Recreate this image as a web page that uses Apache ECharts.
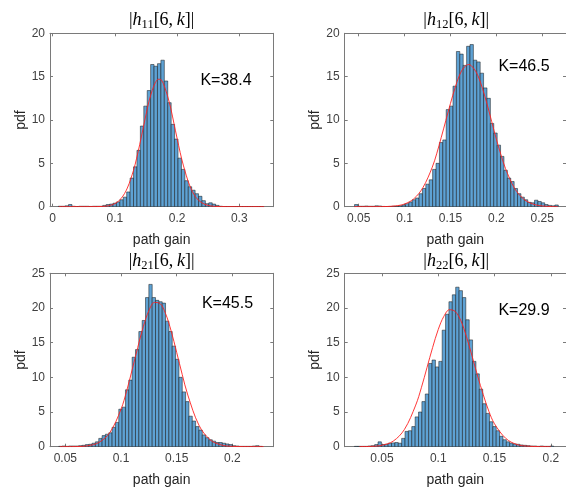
<!DOCTYPE html>
<html><head><meta charset="utf-8">
<script src="https://cdn.jsdelivr.net/npm/echarts@6/dist/echarts.min.js"></script>
<style>html,body{margin:0;padding:0;background:#fff}#c{width:566px;height:489px}</style>
</head><body><div id="c"></div>
<script>
// ---------------- DATA ----------------
// |h11[6,k]|  (60 bins, width 0.0055)
const h11BinStart = 0.009, h11BinWidth = 0.0055;
const h11Heights = [0.05,0.05,0.1,0.25,0.05,0.02,0.05,0.05,0.05,0.03,0.05,0.05,0.05,0.15,0.25,0.3,0.4,0.55,0.8,1.1,
  1.7,3.3,4.6,6.5,9.3,11.6,13.4,16.4,16.2,16.5,16.9,14.5,12.0,9.5,7.8,5.6,4.3,3.0,2.3,
  1.9,1.5,1.2,0.7,0.35,0.45,0.3,0.15,0.05,0.02,0.02,0.02,0.02,0.02,0.02,0.02,0.02,0.02,0.02,0.02,0.02];
const h11CurveX = [0.01,0.03,0.05,0.07,0.08,0.09,0.10,0.11,0.12,0.13,0.135,0.14,0.145,0.15,0.155,0.16,0.165,0.17,0.175,0.18,0.185,0.19,0.195,0.20,0.205,0.21,0.22,0.23,0.24,0.25,0.26,0.27,0.29,0.34];
const h11CurveY = [0,0,0,0.01,0.03,0.11,0.35,0.94,2.15,4.2,5.6,7.2,8.9,10.6,12.2,13.4,14.3,14.7,14.6,13.8,12.7,11.3,9.6,7.9,6.25,4.8,2.5,1.1,0.44,0.15,0.04,0.01,0,0];

// |h12[6,k]|  (60 bins, width 0.0037)
const h12BinStart = 0.0455, h12BinWidth = 0.0037;
const h12Heights = [0.25,0.05,0.05,0.08,0.05,0.05,0.1,0.08,0.03,0.02,0.03,0.05,0.05,0.1,0.2,
  0.35,0.55,0.8,1.0,1.5,2.1,2.6,3.1,4.3,5.0,7.4,7.7,11.2,11.6,13.9,
  17.9,17.6,16.3,18.5,18.7,16.9,16.7,15.4,13.7,12.5,9.6,8.5,7.1,5.8,4.2,3.3,
  2.9,2.1,1.5,1.1,0.8,0.5,0.45,0.75,0.6,0.45,0.25,0.15,0.1,0.2];
const h12CurveX = [0.045,0.06,0.07,0.08,0.09,0.10,0.11,0.12,0.13,0.135,0.14,0.145,0.15,0.155,0.16,0.165,0.17,0.175,0.18,0.185,0.19,0.195,0.20,0.205,0.21,0.22,0.23,0.24,0.25,0.26,0.267];
const h12CurveY = [0,0,0.005,0.02,0.09,0.31,0.9,2.2,4.5,6.1,8.0,9.95,11.9,13.7,15.2,16.1,16.4,16.0,15.1,13.6,11.8,9.8,7.8,6.0,4.4,2.1,0.86,0.3,0.09,0.02,0.01];

// |h21[6,k]|  (bin width 0.003)
const h21BinStart = 0.044, h21BinWidth = 0.003;
const h21Heights = [0.05,0.1,0.05,0.1,0.1,0.1,0.15,0.2,0.3,0.35,0.5,0.7,
  1.2,1.6,1.8,2.0,2.8,3.5,5.4,5.7,8.2,9.6,12.9,14.0,16.6,18.2,21.5,
  23.4,21.5,21.1,20.9,20.7,18.1,16.6,14.5,12.6,10.0,7.9,6.5,4.4,3.7,2.9,2.4,1.7,1.3,1.0,
  0.8,0.6,0.6,0.5,0.4,0.3,0.15,0.1,0.05,0.05,0.05,0.05,0.1,0.15,0.05];
const h21CurveX = [0.045,0.06,0.07,0.08,0.09,0.10,0.105,0.11,0.115,0.12,0.125,0.13,0.135,0.14,0.145,0.15,0.155,0.16,0.17,0.18,0.19,0.20,0.21,0.228];
const h21CurveY = [0,0.02,0.13,0.6,2.05,5.4,8.0,11.1,14.3,17.3,19.6,20.8,20.65,19.2,16.7,13.6,10.4,7.45,3.1,1.0,0.25,0.05,0.01,0];

// |h22[6,k]|  (bin width 0.003)
const h22BinStart = 0.0255, h22BinWidth = 0.003;
const h22Heights = [0.05,0.05,0.05,0.05,0.1,0.15,0.3,0.7,0.3,0.35,0.5,0.55,0.6,0.5,
  1.2,2.2,2.3,2.9,4.3,5.0,6.5,7.6,12.0,12.5,11.5,12.3,
  16.8,19.1,20.9,21.9,23.0,22.5,21.5,18.3,15.4,12.3,10.5,8.3,6.2,4.8,3.6,2.9,
  2.3,1.5,1.0,0.7,0.5,0.4,0.35,0.25,0.2,0.15,0.1,0.1,0.05,0.1,0.05,0.05,0.1];
const h22CurveX = [0.03,0.04,0.05,0.06,0.07,0.08,0.085,0.09,0.095,0.10,0.105,0.11,0.115,0.12,0.125,0.13,0.135,0.14,0.145,0.15,0.16,0.17,0.18,0.19,0.2];
const h22CurveY = [0.01,0.04,0.21,0.8,2.5,6.0,8.5,11.4,14.3,16.9,18.8,19.75,19.5,18.2,15.9,13.1,10.2,7.5,5.1,3.3,1.2,0.3,0.07,0.01,0];

const kLabels = ['K=38.4','K=46.5','K=45.5','K=29.9'];
const subs = ['11','12','21','22'];
const yTicksMax = [20,20,25,25];
const xLabelName = 'path gain', yLabelName = 'pdf';

// ---------------- LAYOUT ----------------
const SANS = 'Liberation Sans, Arial, Helvetica, sans-serif';
const SERIF = 'Liberation Serif, DejaVu Serif, serif';
const panels = [
  {sub:subs[0], K:kLabels[0], start:h11BinStart, width:h11BinWidth, heights:h11Heights, cx:h11CurveX, cy:h11CurveY,
   xMin:-0.0043, xMax:0.3547, xSplit:4, yMax:yTicksMax[0], grid:{left:50, top:33.3, width:223.3, height:173.4}, kPos:[226,81], titleY:20},
  {sub:subs[1], K:kLabels[1], start:h12BinStart, width:h12BinWidth, heights:h12Heights, cx:h12CurveX, cy:h12CurveY,
   xMin:0.0348, xMax:0.2759, xSplit:5, yMax:yTicksMax[1], grid:{left:344.7, top:33.3, width:223, height:173.4}, kPos:[524,67], titleY:20},
  {sub:subs[2], K:kLabels[2], start:h21BinStart, width:h21BinWidth, heights:h21Heights, cx:h21CurveX, cy:h21CurveY,
   xMin:0.0362, xMax:0.2368, xSplit:4, yMax:yTicksMax[2], grid:{left:50, top:273.3, width:223.3, height:173.4}, kPos:[227.5,304], titleY:261},
  {sub:subs[3], K:kLabels[3], start:h22BinStart, width:h22BinWidth, heights:h22Heights, cx:h22CurveX, cy:h22CurveY,
   xMin:0.0169, xMax:0.2135, xSplit:4, yMax:yTicksMax[3], grid:{left:344.7, top:273.3, width:223, height:173.4}, kPos:[524,311], titleY:261}
];

function renderBar(params, api) {
  const p0 = api.coord([api.value(0), api.value(2)]);
  const p1 = api.coord([api.value(1), 0]);
  return {
    type:'rect',
    shape:{x:p0[0], y:p0[1], width:p1[0]-p0[0], height:p1[1]-p0[1]},
    style:{fill:'#5ea2d4', stroke:'rgba(20,20,20,0.85)', lineWidth:0.6}
  };
}

const chart = echarts.init(document.getElementById('c'), null, {renderer:'canvas', width:566, height:489});
const lineCol = '#7a7a7a';
const option = {animation:false, backgroundColor:'#ffffff', grid:[], xAxis:[], yAxis:[], series:[], graphic:[]};

panels.forEach((p, i) => {
  option.grid.push({left:p.grid.left, top:p.grid.top, width:p.grid.width, height:p.grid.height});
  const axLine = {show:true, onZero:false, lineStyle:{color:lineCol, width:1}};
  const axTick = {show:true, inside:true, length:3, lineStyle:{color:lineCol, width:1}};
  option.xAxis.push({type:'value', gridIndex:i, position:'bottom', min:p.xMin, max:p.xMax, splitNumber:p.xSplit,
    name:xLabelName, nameLocation:'middle', nameGap:26,
    nameTextStyle:{fontFamily:SANS, fontSize:14, color:'#262626'},
    axisLine:axLine, axisTick:axTick, splitLine:{show:false},
    axisLabel:{show:true, showMinLabel:false, showMaxLabel:false, margin:6, color:'#404040', fontSize:12, fontFamily:SANS}});
  option.xAxis.push({type:'value', gridIndex:i, position:'top', min:p.xMin, max:p.xMax, splitNumber:p.xSplit,
    axisLine:axLine, axisTick:axTick, splitLine:{show:false}, axisLabel:{show:false}});
  option.yAxis.push({type:'value', gridIndex:i, position:'left', min:0, max:p.yMax, interval:5,
    name:yLabelName, nameLocation:'middle', nameGap:18,
    nameTextStyle:{fontFamily:SANS, fontSize:14, color:'#262626'},
    axisLine:axLine, axisTick:axTick, splitLine:{show:false},
    axisLabel:{show:true, margin:5, color:'#404040', fontSize:12, fontFamily:SANS}});
  option.yAxis.push({type:'value', gridIndex:i, position:'right', min:0, max:p.yMax, interval:5,
    axisLine:axLine, axisTick:axTick, splitLine:{show:false}, axisLabel:{show:false}});

  option.series.push({type:'custom', xAxisIndex:2*i, yAxisIndex:2*i, renderItem:renderBar, silent:true,
    encode:{x:[0,1], y:2}, clip:true,
    data:p.heights.map((h,k) => [p.start + k*p.width, p.start + (k+1)*p.width, h])});
  option.series.push({type:'line', xAxisIndex:2*i, yAxisIndex:2*i, silent:true, z:5, smooth:0.35, symbol:'none',
    lineStyle:{color:'#ff2020', width:0.9},
    data:p.cx.map((x,k) => [x, p.cy[k]])});

  const cxp = p.grid.left + p.grid.width/2;
  option.graphic.push({type:'text', x:cxp, y:p.titleY, silent:true,
    style:{text:'{n||}{i|h}{s|'+p.sub+'}{n|[6,\u2009}{i|k}{n|]|}', align:'center', verticalAlign:'middle', textAlign:'center', textVerticalAlign:'middle',
      rich:{
        n:{fontFamily:SERIF, fontSize:18, lineHeight:22, color:'#262626'},
        i:{fontFamily:SERIF, fontSize:18, lineHeight:22, fontStyle:'italic', color:'#262626'},
        s:{fontFamily:SERIF, fontSize:12.5, lineHeight:10, verticalAlign:'bottom', color:'#262626'}
      }}});
  option.graphic.push({type:'text', x:p.kPos[0], y:p.kPos[1], silent:true,
    style:{text:p.K, fontFamily:SANS, fontSize:16, fill:'#000', align:'center', verticalAlign:'middle', textAlign:'center', textVerticalAlign:'middle'}});
});

chart.setOption(option);
</script></body></html>
